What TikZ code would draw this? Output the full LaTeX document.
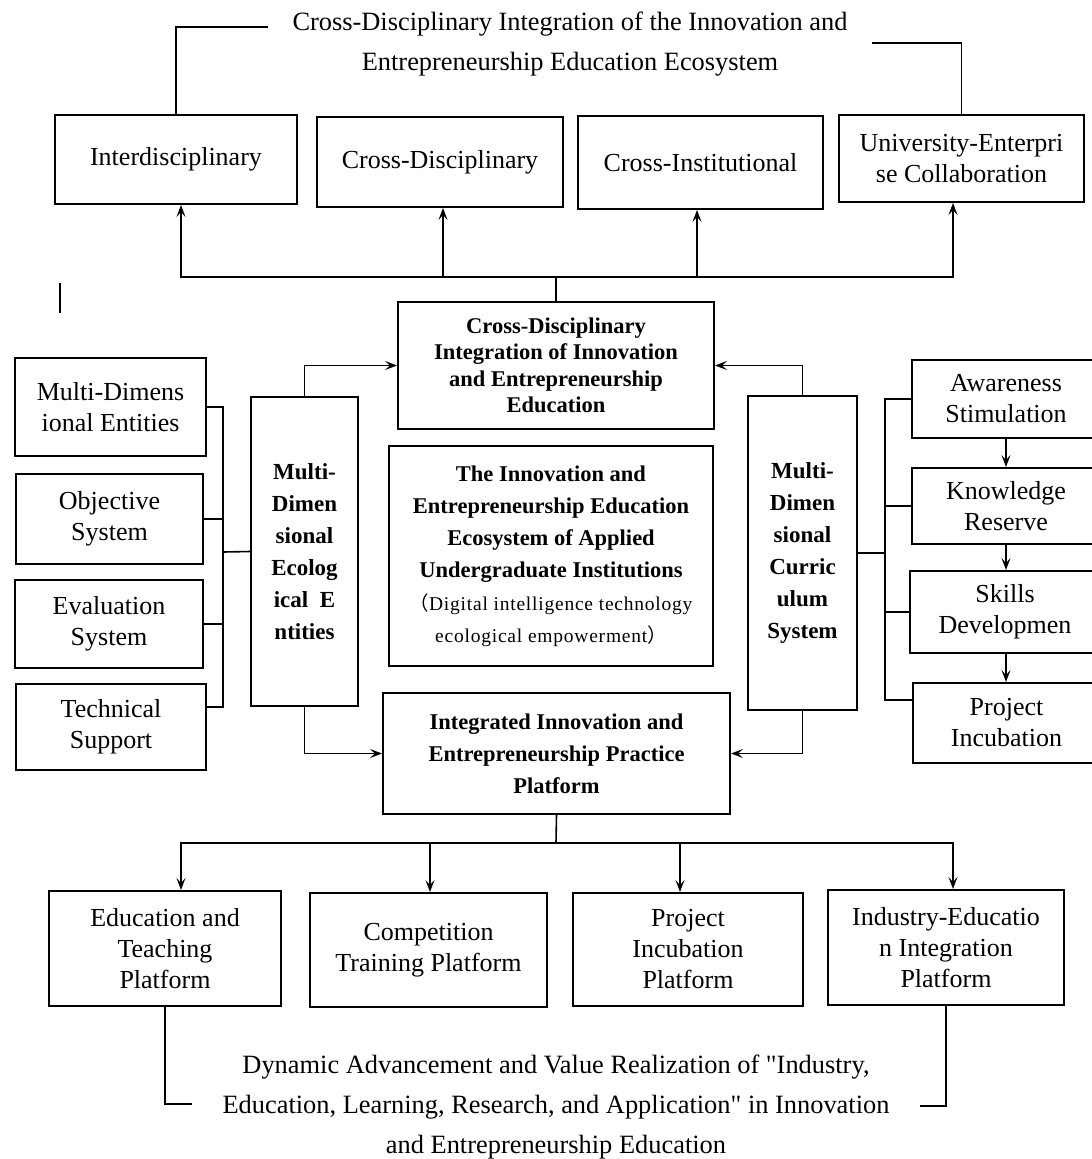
\documentclass[tikz,border=0pt]{standalone}
\usepackage{fontspec}
\setmainfont{Liberation Serif}
\newfontfamily\qfont[Ligatures=TeXOff]{Liberation Serif}
\newfontfamily\cjkfont{Noto Sans CJK SC}
\usetikzlibrary{arrows.meta}
\begin{document}
\begin{tikzpicture}[x=1pt,y=-1pt,
  box/.style={draw, line width=2pt, inner sep=0pt, align=center, font=\fontsize{26}{31}\selectfont},
  bbox/.style={draw, line width=2pt, inner sep=0pt, align=center, font=\fontsize{22.5}{32}\bfseries\selectfont},
  conn/.style={line width=1.6pt},
  arr/.style={conn, -{Stealth[length=12pt,width=9pt,inset=5pt]}},
  plain/.style={inner sep=0pt, align=center, font=\fontsize{26.4}{40}\selectfont}
]
\useasboundingbox (0,0) rectangle (1092,1159);
\clip (0,0) rectangle (1092,1159);

% top title
\node[plain] (toptext) at (570,44) {Cross-Disciplinary Integration of the Innovation and\\Entrepreneurship Education Ecosystem};
\coordinate (tl) at (268,27);
\coordinate (tr) at (872,43);

% top boxes
\node[box, minimum width=242, minimum height=89] (inter) at (176,159.5) {Interdisciplinary};
\node[box, minimum width=246, minimum height=90] (crossd) at (440,162) {Cross-Disciplinary};
\node[box, minimum width=245, minimum height=93] (crossi) at (700.5,162.5) {Cross-Institutional};
\node[box, minimum width=245, minimum height=87] (unient) at (961.5,158.5) {University-Enterpri\\se Collaboration};

\draw[conn] (tl) -| (inter.north);
\draw[conn] (tr) -| (unient.north);

% stray mark
\coordinate (s1) at (60,283);
\coordinate (s2) at (60,313);
\draw[conn] (s1) -- (s2);

% central boxes
\node[bbox, minimum width=316, minimum height=127, font=\fontsize{22.5}{26.5}\bfseries\selectfont] (cdi) at (556,365.5)
  {Cross-Disciplinary\\Integration of Innovation\\and Entrepreneurship\\Education};
\node[bbox, minimum width=324, minimum height=220] (eco) at (551,556)
  {The Innovation and\\Entrepreneurship Education\\Ecosystem of Applied\\Undergraduate Institutions\\[1pt]
   {\fontsize{19.5}{34}\mdseries\selectfont\addfontfeatures{LetterSpace=4}{\cjkfont （}Digital intelligence technology}\\
   {\fontsize{19.5}{34}\mdseries\selectfont\addfontfeatures{LetterSpace=4}ecological empowerment{\cjkfont ）}}};
\node[bbox, minimum width=347, minimum height=121] (ipp) at (556.5,753.5)
  {Integrated Innovation and\\Entrepreneurship Practice\\Platform};

% top bus
\coordinate (topbus) at (556,277);
\draw[conn] (cdi.north) -- (topbus);
\draw[arr] (topbus) -| ([xshift=5pt]inter.south);
\draw[arr] (topbus) -| ([xshift=3pt]crossd.south);
\draw[arr] (topbus) -| ([xshift=-3.5pt]crossi.south);
\draw[arr] (topbus) -| ([xshift=-8.5pt]unient.south);

% columns
\node[bbox, minimum width=107, minimum height=309, font=\fontsize{23}{32}\bfseries\selectfont] (mde) at (304.5,551.5)
  {Multi-\\Dimen\\sional\\Ecolog\\ical\ \ E\\ntities};
\node[bbox, minimum width=109, minimum height=314, font=\fontsize{23}{32}\bfseries\selectfont] (mcs) at (802.5,553)
  {Multi-\\Dimen\\sional\\Curric\\ulum\\System};

\draw[arr] (mde.north) |- (cdi.west);
\draw[arr] (mde.south) |- (ipp.west);
\draw[arr] (mcs.north) |- (cdi.east);
\draw[arr] (mcs.south) |- (ipp.east);

% left boxes
\node[box, minimum width=191, minimum height=98] (lb1) at (110.5,407) {Multi-Dimens\\ional Entities};
\node[box, minimum width=187, minimum height=90] (lb2) at (109.5,519) {Objective\\System};
\node[box, minimum width=188, minimum height=88] (lb3) at (109,624) {Evaluation\\System};
\node[box, minimum width=190, minimum height=86] (lb4) at (111,727) {Technical\\Support};
\coordinate (lbr) at (223,552);
\coordinate (lb4s) at ([yshift=20pt]lb4.east);
\draw[conn] (lb1.east) -| (lbr);
\draw[conn] (lb4s) -| (lbr);
\draw[conn] (lb2.east) -- (lb2.east -| lbr);
\draw[conn] (lb3.east) -- (lb3.east -| lbr);
\draw[conn] (lbr) -- (mde.west);

% right boxes
\node[box, minimum width=188, minimum height=78] (rb1) at (1006,399) {Awareness\\Stimulation};
\node[box, minimum width=188, minimum height=76] (rb2) at (1006,506) {Knowledge\\Reserve};
\node[box, minimum width=190, minimum height=82] (rb3) at (1005,612) {Skills\\Developmen};
\node[box, minimum width=187, minimum height=80] (rb4) at (1006.5,723) {Project\\Incubation};
\coordinate (rbr) at (885,553);
\coordinate (rb4s) at ([yshift=23pt]rb4.west);
\draw[conn] (rb1.west) -| (rbr);
\draw[conn] (rb4s) -| (rbr);
\draw[conn] (rb2.west) -- (rb2.west -| rbr);
\draw[conn] (rb3.west) -- (rb3.west -| rbr);
\draw[conn] (mcs.east |- rbr) -- (rbr);
\draw[arr] (rb1.south) -- (rb2.north);
\draw[arr] (rb2.south) -- (rb3.north -| rb2.south);
\draw[arr] (rb3.south -| rb2.south) -- (rb4.north -| rb2.south);

% bottom boxes
\node[box, minimum width=232, minimum height=115] (bb1) at (165,948.5) {Education and\\Teaching\\Platform};
\node[box, minimum width=237, minimum height=114] (bb2) at (428.5,950) {Competition\\Training Platform};
\node[box, minimum width=230, minimum height=113] (bb3) at (688,949.5) {Project\\Incubation\\Platform};
\node[box, minimum width=236, minimum height=115] (bb4) at (946,947.5) {Industry-Educatio\\n Integration\\Platform};

\coordinate (botbus) at (556,843);
\draw[conn] (ipp.south) -- (botbus);
\draw[arr] (botbus) -| ([xshift=16pt]bb1.north);
\draw[arr] (botbus) -| ([xshift=1.5pt]bb2.north);
\draw[arr] (botbus) -| ([xshift=-8pt]bb3.north);
\draw[arr] (botbus) -| ([xshift=7pt]bb4.north);

% bottom text
\node[plain] (bottext) at (556,1107) {Dynamic Advancement and Value Realization of {\qfont"}Industry,\\Education, Learning, Research, and Application{\qfont"} in Innovation\\and Entrepreneurship Education};
\coordinate (bl) at (192,1104);
\coordinate (br) at (920,1106);
\draw[conn] (bb1.south) |- (bl);
\draw[conn] (bb4.south) |- (br);
\end{tikzpicture}
\end{document}
